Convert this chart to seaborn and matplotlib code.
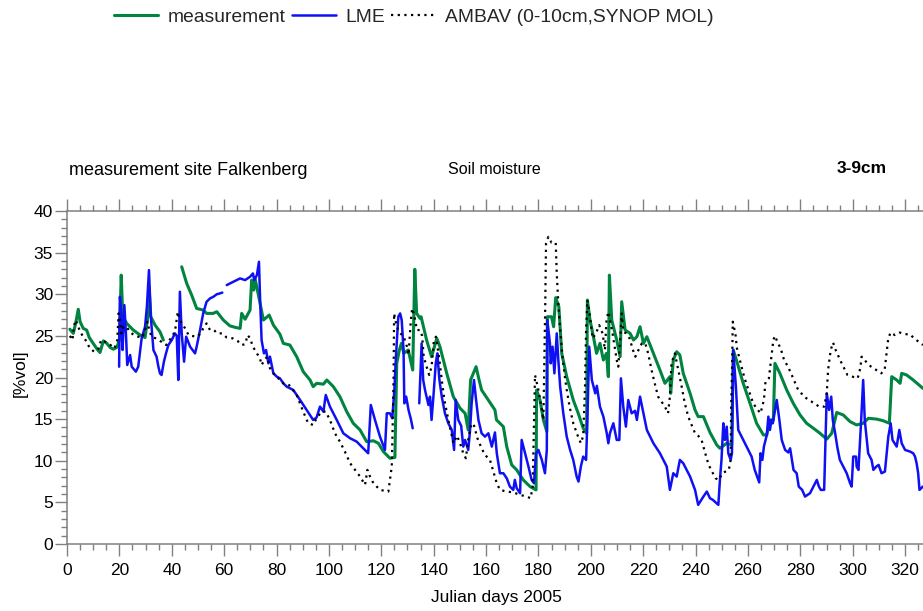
import matplotlib
matplotlib.use("Agg")
import matplotlib.pyplot as plt
import pandas as pd
import seaborn as sns
from matplotlib.lines import Line2D
from matplotlib.ticker import MultipleLocator

# ---------------- data (Julian day, soil moisture %vol) ----------------
meas_seg1 = [(1.1,25.8),(2.4,25.3),(3.3,26.5),(4.3,28.2),(5.0,26.7),(6.2,25.9),(7.5,25.7),(8.5,24.8),
             (10.0,24.1),(11.5,23.4),(12.6,23.0),(13.9,24.4),(15.2,24.1),(16.5,23.6),(17.7,23.4),(19.0,23.6),
             (20.0,24.5),(20.7,32.3),(21.3,27.3),(22.8,26.5),(25.3,25.7),(27.9,25.1),(29.8,24.8),(30.7,26.9),
             (31.3,30.9),(32.0,27.3),(33.6,26.3),(35.5,25.5),(36.8,24.5)]
meas_seg2 = [(43.8,33.3),(45.7,31.3),(47.6,29.9),(49.5,28.3),(52.0,28.1),(53.3,27.7),(55.8,27.7),(57.2,27.9),
             (59.7,26.9),(62.2,26.2),(64.5,26.0),(66.1,25.9),(66.7,27.7),(68.0,27.0),(69.9,28.1),(70.5,31.7),
             (71.3,30.5),(71.8,31.9),(73.7,28.9),(75.0,26.9),(77.2,27.5),(78.8,26.3),(81.3,25.2),(82.6,24.1),
             (85.1,23.9),(87.7,22.5),(90.2,20.7),(92.8,19.7),(94.0,18.9),(95.3,19.3),(97.9,19.2),(99.2,19.7),
             (101.7,18.9),(104.2,17.7),(106.8,15.9),(109.3,14.5),(111.9,13.7),(114.4,12.3),(117.0,12.4),
             (118.9,12.1),(120.8,11.1),(123.3,10.3),(125.2,10.4),(125.9,21.7),(126.9,23.3),(127.7,24.1),
             (128.6,22.9),(130.3,23.3),(132.0,20.9),(132.8,33.0),(133.5,27.7),(134.8,27.1),(135.2,27.3),
             (137.3,24.5),(139.2,22.5),(141.2,24.7),(142.4,23.7),(145.0,20.5),(147.5,17.7),(150.1,16.3),
             (152.0,15.7),(153.2,13.7),(154.1,19.7),(156.2,21.3),(157.2,19.9),(158.3,18.5),(161.5,17.0),
             (163.4,16.1),(164.0,14.9),(166.6,14.1),(167.9,11.7),(169.8,9.5),(171.7,8.9),(174.2,7.7),
             (176.8,6.9),(179.1,6.5),(179.3,18.5),(180.6,17.3),(181.9,14.9),(183.2,13.5),(183.4,27.3),
             (185.0,27.3),(185.8,26.1),(186.6,29.6),(187.8,28.5),(188.9,22.9),(190.8,20.1),(193.3,17.3),
             (195.2,15.7),(197.1,13.9),(198.4,13.3),(198.7,29.3),(199.7,26.9),(201.0,24.9),(202.2,22.9),
             (203.5,24.1),(204.8,22.1),(206.0,22.9),(206.7,20.1),(207.1,32.3),(208.0,26.9),(209.9,24.5),
             (211.2,22.5),(211.8,29.1),(213.1,25.7),(215.0,25.3),(216.3,24.5),(217.6,24.9),(218.8,26.1),
             (220.1,24.1),(221.4,24.9),(223.9,22.9),(226.4,20.9),(228.3,19.3),(230.2,20.1),(230.5,18.1),
             (231.5,22.1),(232.8,23.1),(234.0,22.7),(235.3,20.5),(237.9,18.1),(239.8,16.1),(241.0,15.3),
             (243.0,15.3),(245.5,13.4),(248.1,11.9),(249.3,11.5),(251.9,12.1),(253.8,11.9),(254.4,23.3),
             (255.6,22.1),(258.2,19.3),(260.8,16.9),(263.3,14.5),(265.9,13.1),(267.2,13.1),(268.4,14.9),
             (269.7,14.9),(270.3,21.7),(272.2,20.5),(274.8,18.5),(277.3,16.9),(279.9,15.5),(282.4,14.5),
             (285.0,13.9),(287.5,13.3),(290.1,12.6),(292.0,13.3),(293.9,15.8),(296.4,15.5),(299.0,14.7),
             (301.5,14.3),(304.0,14.5),(306.0,15.1),(309.2,15.0),(311.7,14.8),(314.0,14.5),(314.9,20.1),
             (316.8,19.7),(318.1,19.3),(318.7,20.5),(320.6,20.3),(323.1,19.7),(326.8,18.7)]

lme_seg1 = [(19.9,21.3),(20.2,29.7),(20.8,27.3),(21.2,23.3),(21.9,28.7),(22.5,25.3),(23.0,21.5),(24.1,22.7),
            (24.7,21.3),(26.3,20.7),(27.2,21.3),(28.5,24.7),(29.8,26.1),(30.5,28.5),(31.3,32.9),(32.0,27.3),
            (33.0,23.3),(34.2,22.5),(34.9,21.3),(35.5,20.5),(36.1,20.3),(37.0,21.9),(37.8,22.9),(38.7,23.9),
            (40.0,24.5),(41.2,25.3),(41.9,25.0),(42.5,19.7),(43.1,30.3),(43.8,25.3),(44.7,21.9),(45.5,24.9),
            (47.0,23.7),(48.9,22.9),(49.5,23.7),(50.8,25.7),(52.0,27.7),(53.3,29.1),(54.6,29.5),(55.9,29.7),
            (57.2,30.0),(58.4,30.1),(59.3,30.2)]
lme_seg2 = [(61.0,31.1),(63.5,31.5),(66.1,31.9),(68.0,31.7),(69.9,32.1),(71.0,32.5),(71.5,31.7),(72.5,32.3),
            (73.3,33.9),(73.7,29.7),(74.3,24.5),(75.2,22.9),(76.0,23.3),(76.9,21.7),(77.5,22.5),(78.8,20.5),
            (80.1,20.1),(81.3,19.9),(82.6,19.3),(83.9,18.9),(86.4,18.5),(89.0,17.3),(91.5,16.1),(94.0,14.9),
            (95.3,15.2),(96.6,16.5),(97.9,15.9),(98.8,17.9),(100.4,16.5),(103.0,14.9),(105.5,13.3),(108.1,12.7),
            (110.6,12.3),(113.1,11.5),(115.0,10.9),(116.0,16.7),(117.6,14.9),(119.5,12.9),(121.4,11.3),
            (122.1,15.7),(123.3,15.7),(124.2,15.1),(125.0,18.5),(125.6,22.5),(126.5,27.3),(127.2,27.7),
            (127.8,26.9),(128.5,23.3),(128.8,16.9),(129.5,17.7),(130.4,16.1),(131.3,15.0),(132.0,13.9)]
lme_seg3 = [(134.5,16.9),(135.4,24.1),(136.0,19.7),(136.7,18.5),(138.0,16.7),(138.6,17.7),(139.2,14.9),
            (139.9,17.7),(140.8,21.7),(141.4,22.9),(142.2,19.7),(143.1,17.7),(144.3,15.7),(145.6,14.5),
            (146.9,13.7),(147.8,11.3),(148.4,17.3),(149.4,14.9),(150.5,14.2),(151.3,11.7),(152.0,12.5),
            (153.2,11.3),(153.9,13.7),(154.5,16.9),(155.4,19.7),(156.2,17.3),(157.1,14.9),(158.3,13.3),
            (159.6,12.9),(160.9,13.3),(162.2,11.7),(163.4,13.4),(164.1,10.9),(165.3,8.5),(166.6,8.5),
            (167.9,7.9),(169.1,6.9),(170.4,6.5),(171.0,7.7),(171.7,6.7),(173.0,6.1),(173.6,12.5),(174.9,10.9),
            (176.2,9.3),(177.4,7.7),(178.3,7.3),(179.1,10.9),(180.0,11.3),(181.3,10.1),(182.5,8.5),(183.2,11.3),
            (183.4,26.9),(184.4,24.1),(184.7,21.7),(185.4,23.7),(186.1,20.5),(187.0,25.3),(187.6,22.1),
            (188.3,18.9),(189.5,15.7),(190.8,12.9),(192.1,11.3),(193.3,10.1),(194.6,8.1),(195.3,7.5),
            (196.2,9.3),(197.1,10.5),(198.2,10.1),(198.7,14.9),(199.4,23.7),(200.4,19.7),(201.7,18.1),
            (202.3,19.0),(203.5,16.5),(204.8,15.3),(206.1,13.3),(206.7,12.1),(207.3,13.3),(208.6,14.5),
            (209.9,12.5),(210.9,12.5),(211.5,19.9),(212.4,16.5),(213.4,14.1),(214.3,17.3),(215.6,15.7),
            (216.9,16.0),(217.6,14.9),(218.8,17.7),(220.1,15.7),(221.4,13.7),(223.9,12.1),(226.4,10.9),
            (229.0,9.3),(230.2,6.5),(231.5,8.5),(232.8,8.1),(234.0,10.1),(235.3,9.7),(237.9,8.1),(239.8,6.5),
            (241.0,4.7),(243.0,5.7),(244.3,6.3),(245.5,5.5),(246.6,5.3),(248.7,4.7),(249.3,7.7),(249.9,10.1),
            (250.6,14.5),(251.2,12.5),(251.9,14.1),(252.5,10.9),(253.4,10.1),(253.9,10.9),(254.4,23.3),
            (255.4,18.9),(256.3,13.7),(258.2,12.5),(260.1,11.3),(261.4,10.5),(262.6,8.9),(264.3,7.4),
            (264.8,10.9),(265.5,10.1),(266.1,11.7),(267.2,13.1),(267.8,15.3),(268.4,13.7),(269.0,14.9),
            (269.5,14.5),(271.0,17.3),(272.0,14.9),(272.9,12.5),(274.2,11.3),(275.4,11.0),(276.1,11.5),
            (276.8,10.1),(277.4,8.9),(278.6,8.5),(279.4,6.9),(280.7,6.5),(281.8,5.7),(283.7,6.1),(285.0,6.9),
            (286.3,7.7),(287.1,6.9),(287.8,6.5),(289.1,6.5),(290.1,18.1),(291.0,16.1),(291.8,17.7),(292.4,14.9),
            (293.3,13.3),(294.2,11.5),(295.1,10.1),(296.4,9.3),(297.7,8.5),(299.0,7.3),(299.6,6.9),(300.2,10.5),
            (301.3,10.5),(301.5,9.3),(302.2,8.9),(303.1,14.1),(304.0,19.7),(304.6,14.9),(305.9,10.9),
            (307.2,10.1),(307.9,8.9),(309.0,9.3),(309.9,9.5),(311.0,8.5),(312.3,8.7),(313.6,12.9),(314.5,14.5),
            (315.2,12.5),(316.8,11.7),(317.8,13.7),(318.7,12.1),(320.0,11.3),(321.9,11.1),(323.1,10.9),
            (323.8,10.5),(324.4,9.7),(325.0,8.5),(325.5,6.5),(326.8,6.9)]

ambav_seg1 = [(1.1,25.0),(2.1,24.5),(2.6,26.1),(3.3,26.9),(4.1,26.3),(5.0,25.5),(6.2,24.9),(7.5,24.3),(8.7,23.5),
              (10.4,23.1),(12.1,23.5),(13.0,24.5),(14.5,24.3),(16.6,23.9),(18.1,23.5),(19.2,24.5),(19.7,27.7),
              (20.2,26.9),(20.8,25.3),(21.5,26.1),(22.7,26.1),(24.0,25.5),(25.5,25.1),(27.2,24.9),(28.8,24.8),
              (29.8,25.7),(30.7,26.7),(31.4,25.7),(32.3,24.9),(33.9,24.7),(36.0,24.3),(37.9,23.9),(40.0,24.9),
              (41.2,25.5),(42.3,27.9),(42.9,27.1),(43.8,26.5),(45.1,25.9),(46.4,25.1),(47.6,25.0),(49.5,24.9),
              (51.1,25.3),(52.0,25.9),(53.3,26.5),(54.6,25.7),(56.1,25.7),(57.4,25.3),(59.3,25.3),(61.0,24.8),
              (63.3,24.7),(65.1,24.4),(66.7,23.9),(68.0,24.0),(69.0,25.1),(69.9,24.7),(71.0,23.7),(72.5,22.9),
              (73.7,22.3),(74.3,21.5),(75.2,22.0),(76.4,22.5),(77.5,21.1),(78.8,20.5),(80.7,19.9),(82.6,19.3),
              (84.5,19.2),(85.8,18.7),(87.7,17.9),(90.2,15.9),(92.1,14.5),(94.0,14.3),(95.3,15.1),(97.2,15.9),
              (98.8,15.9),(100.4,14.9),(102.3,13.3),(104.2,12.3),(106.1,11.1),(108.1,9.7),(110.0,8.9),
              (111.9,8.1),(113.8,7.1),(114.7,8.9),(115.7,8.1),(117.0,7.3),(119.5,6.5),(122.7,6.3),(124.0,9.3),
              (124.4,14.9),(124.7,20.1),(124.9,27.7),(125.9,26.1),(127.2,25.3),(128.5,25.0),(129.8,23.7),
              (130.4,22.7),(131.3,26.9),(131.8,28.3),(132.7,27.3),(133.6,25.7),(134.8,25.7),(135.6,25.0),
              (136.2,22.5),(137.3,21.3),(138.3,20.3),(139.2,21.3),(140.1,24.5),(140.9,24.9),(142.2,22.1),
              (143.1,19.7),(144.1,17.3),(145.1,15.7),(146.4,13.7),(147.6,12.1),(148.9,13.0),(150.1,12.1),
              (151.3,10.9),(152.3,10.3),(153.2,12.5),(154.1,14.1),(155.2,14.5),(156.7,12.7),(158.3,11.5),
              (159.6,10.7),(161.5,10.1),(162.8,8.7),(164.1,7.3),(165.3,6.5),(167.9,6.3),(170.4,6.2),(173.0,5.9),
              (175.5,5.7),(177.0,5.5),(177.8,6.9),(178.3,14.1),(178.7,20.3),(180.0,18.5),(180.9,16.9),
              (181.9,14.9),(182.6,28.5),(182.9,36.1),(183.8,36.9),(185.0,36.2),(186.6,36.2),(187.0,32.5),
              (187.6,28.9),(188.3,25.7),(189.3,22.1),(190.6,18.9),(191.9,16.5),(193.3,14.5),(194.9,13.1),
              (196.2,12.1),(197.1,13.0),(197.8,18.9),(198.2,25.7),(198.7,29.3),(199.7,27.3),(200.7,24.7),
              (202.0,25.3),(203.2,26.3),(204.5,25.3),(205.4,23.3),(206.0,26.9),(206.7,27.9),(207.3,26.9),
              (208.3,25.3),(209.9,22.1),(210.5,21.3),(211.2,24.5),(211.8,27.7),(212.4,25.5),(213.5,25.3),
              (214.8,24.7),(216.1,23.3),(217.0,22.5),(218.2,23.3),(219.5,24.1),(220.8,24.1),(221.9,22.9),
              (223.2,20.9),(224.4,19.3),(225.7,17.7),(227.0,17.1),(228.3,16.5),(229.5,15.7),(230.2,17.7),
              (230.8,21.7),(232.1,22.9),(233.4,20.9),(234.7,18.9),(235.9,16.9),(237.2,15.3),(238.5,14.3),
              (239.8,13.3),(241.0,13.0),(242.3,12.5),(243.6,11.0),(245.0,9.5),(246.3,8.7),(247.6,7.9),
              (248.9,7.7),(250.2,8.5),(251.4,8.7),(252.7,8.9),(253.4,10.1),(253.6,16.5),(254.0,22.1),
              (254.2,26.7),(255.2,25.3),(255.8,23.5),(256.9,22.1),(258.2,20.5),(259.5,19.1),(260.7,18.1),
              (262.0,16.9),(263.3,16.3),(264.8,15.7),(266.1,17.3),(266.7,19.5),(268.0,19.9),(268.9,22.3),
              (269.7,24.5),(270.3,25.0),(271.5,24.1),(272.5,23.5),(273.8,22.1),(275.3,21.3),(277.0,20.1),
              (278.9,18.7),(281.4,17.7),(283.3,17.3),(285.3,16.9),(287.2,16.5),(289.1,16.5),(290.1,18.1),
              (290.6,20.9),(291.6,23.3),(292.5,24.2),(293.5,23.3),(295.5,21.9),(298.0,20.3),(300.0,20.1),
              (301.9,19.9),(302.9,21.1),(303.4,22.5),(305.1,21.9),(307.0,21.3),(309.0,20.9),(310.9,20.5),
              (312.2,20.9),(312.9,22.9),(313.5,24.5),(314.4,25.4),(316.1,25.1),(318.0,25.4),(319.9,25.2),
              (321.8,25.2),(323.5,24.7),(325.6,24.2),(326.8,23.9)]

series_labels = ["measurement", "LME", "AMBAV (0-10cm,SYNOP MOL)"]
x_ticks = list(range(0, 321, 20))
y_ticks = list(range(0, 41, 5))


def to_frame(segments, name):
    rows = []
    for k, seg in enumerate(segments):
        for i, (d, v) in enumerate(seg):
            rows.append((name, f"{name}_{k}", i, d, v))
    return pd.DataFrame(rows, columns=["series", "seg", "order", "day", "value"])


df_meas = to_frame([meas_seg1, meas_seg2], series_labels[0])
df_lme = to_frame([lme_seg1, lme_seg2, lme_seg3], series_labels[1])
df_amb = to_frame([ambav_seg1], series_labels[2])

# ---------------- styling ----------------
sns.set_theme(style="ticks")
plt.rcParams["font.family"] = ["Liberation Sans", "DejaVu Sans"]

GREEN = "#00843f"
BLUE = "#1010f5"
GRAY = "#808080"
DOT = (0, (1, 2))

W, H = 923, 611
fig = plt.figure(figsize=(W / 100, H / 100), dpi=100)
fig.patch.set_facecolor("white")
ax = fig.add_axes([67 / W, 67 / H, 856 / W, 333 / H])
ax.set_facecolor("white")

sns.lineplot(data=df_meas, x="day", y="value", units="seg", estimator=None, sort=False,
             color=GREEN, linewidth=2.2, ax=ax, legend=False)
sns.lineplot(data=df_lme, x="day", y="value", units="seg", estimator=None, sort=False,
             color=BLUE, linewidth=1.8, ax=ax, legend=False)
sns.lineplot(data=df_amb, x="day", y="value", units="seg", estimator=None, sort=False,
             color="black", linewidth=1.6, linestyle=DOT, ax=ax, legend=False)

ax.set_xlim(0, 856 / 2.619)
ax.set_ylim(0, 40)
ax.set_xticks(x_ticks)
ax.set_yticks(y_ticks)
ax.xaxis.set_minor_locator(MultipleLocator(5))
ax.yaxis.set_minor_locator(MultipleLocator(1))
ax.tick_params(which="both", direction="out", top=True, bottom=True, left=True, right=False,
               labeltop=False, color=GRAY, width=1.0, labelsize=12.5, labelcolor="black")
ax.tick_params(which="major", length=8.5)
ax.tick_params(which="minor", length=4.2)
ax.tick_params(axis="x", which="major", pad=5.0)
ax.tick_params(axis="y", which="major", pad=1.5)
for side in ["left", "top", "bottom"]:
    ax.spines[side].set_color(GRAY)
    ax.spines[side].set_linewidth(1.1)
ax.spines["right"].set_visible(False)
ax.grid(False)

ax.set_xlabel("Julian days 2005", fontsize=12.5, color="black")
ax.xaxis.set_label_coords(0.502, -0.138)
ax.set_ylabel("[%vol]", fontsize=12.5, color="black")
ax.yaxis.set_label_coords(-0.046, 0.5135)

fig.text(69 / W, 1 - 175 / H, "measurement site Falkenberg", ha="left", va="baseline",
         fontsize=13.0, color="black")
fig.text(494 / W, 1 - 174 / H, "Soil moisture", ha="center", va="baseline",
         fontsize=11.5, color="black")
fig.text(887 / W, 1 - 173 / H, "3-9cm", ha="right", va="baseline",
         fontsize=12.5, fontweight="bold", color="black")

handles = [Line2D([], [], color=GREEN, linewidth=2.2),
           Line2D([], [], color=BLUE, linewidth=1.8),
           Line2D([], [], color="black", linewidth=1.6, linestyle=DOT)]
fig.legend(handles, series_labels, loc="center", bbox_to_anchor=(414 / W, 1 - 17 / H), ncol=3,
           frameon=False, fontsize=13.9, handlelength=2.3, handletextpad=0.5, columnspacing=0.3,
           borderaxespad=0, borderpad=0)

fig.savefig("out.png", dpi=100, facecolor="white")
